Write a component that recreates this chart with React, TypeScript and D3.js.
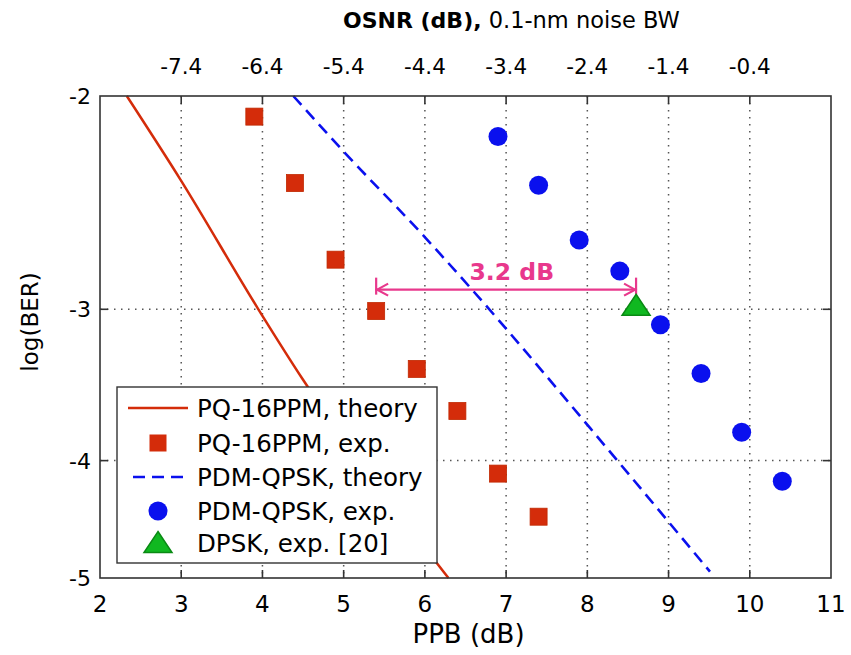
import React from 'react'
import * as d3 from 'd3'

// PQ-16PPM theory curve (PPB dB, log BER)
const ppmTheoryX = [2.33, 3.0, 3.95, 4.5, 6.29]
const ppmTheoryY = [-2.0, -2.35, -3.0, -3.43, -5.0]

// PQ-16PPM measured
const ppmExpX = [3.9, 4.4, 4.9, 5.4, 5.9, 6.4, 6.9, 7.4]
const ppmExpY = [-2.08, -2.36, -2.73, -3.01, -3.36, -3.64, -4.1, -4.45]

// PDM-QPSK theory curve
const qpskTheoryX = [4.38, 5.02, 6.01, 6.58, 8.37, 9.51]
const qpskTheoryY = [-2.0, -2.23, -2.62, -2.89, -4.0, -4.94]

// PDM-QPSK measured
const qpskExpX = [6.9, 7.4, 7.9, 8.4, 8.9, 9.4, 9.9, 10.4]
const qpskExpY = [-2.16, -2.37, -2.63, -2.79, -3.09, -3.39, -3.79, -4.16]

// DPSK point from [20]
const dpskX = [8.6]
const dpskY = [-2.98]

const xTicks = [2, 3, 4, 5, 6, 7, 8, 9, 10, 11]
const yTicks = [-2, -3, -4, -5]
const osnrTicks = [-7.4, -6.4, -5.4, -4.4, -3.4, -2.4, -1.4, -0.4]
const osnrOffset = 10.4

const legendLabels = [
  'PQ-16PPM, theory',
  'PQ-16PPM, exp.',
  'PDM-QPSK, theory',
  'PDM-QPSK, exp.',
  'DPSK, exp. [20]',
]

const W = 851
const H = 655
const margin = { top: 96, right: 20, bottom: 77, left: 100 }
const font = 'DejaVu Sans, Verdana, sans-serif'
const RED = '#d42c0a'
const BLUE = '#0a10ee'
const GREEN = '#10b820'
const PINK = '#e8388c'
const AXIS = '#333'
const TXT = '#000'

export default function App() {
  const x = d3.scaleLinear().domain([2, 11]).range([margin.left, W - margin.right])
  const osnr = d3.scaleLinear()
    .domain([2 - osnrOffset, 11 - osnrOffset])
    .range([margin.left, W - margin.right])
  // y axis is log of -log(BER)
  const yLog = d3.scaleLog().domain([2, 5]).range([margin.top, H - margin.bottom])
  const y = (v: number) => yLog(-v)

  const line = d3.line<[number, number]>()
    .x(d => x(d[0]))
    .y(d => y(d[1]))
    .curve(d3.curveMonotoneX)

  const ppmTheory = ppmTheoryX.map((v, i) => [v, ppmTheoryY[i]] as [number, number])
  const qpskTheory = qpskTheoryX.map((v, i) => [v, qpskTheoryY[i]] as [number, number])

  const x0 = margin.left
  const x1 = W - margin.right
  const y0 = margin.top
  const y1 = H - margin.bottom
  const tickLen = 8

  const sq = 17
  const circR = 9.5
  const tri = (cx: number, cy: number, w: number, h: number) =>
    `M${cx},${cy - h / 2}L${cx + w / 2},${cy + h / 2}L${cx - w / 2},${cy + h / 2}Z`

  // annotation
  const arrY = y(-2.89)
  const ax1 = x(5.4)
  const ax2 = x(8.6)

  // legend
  const lg = { x: 117, y: 387, w: 320, h: 176 }
  const rowY = [408, 443, 477, 511, 543]

  return (
    <svg width={W} height={H} style={{ position: 'absolute', left: 0, top: 0, background: '#fff' }}
      fontFamily={font}>
      {/* grid */}
      <g stroke="#555" strokeWidth={1.5} strokeDasharray="1.5,5.5">
        {xTicks.slice(1, -1).map(t => (
          <line key={'gx' + t} x1={x(t)} x2={x(t)} y1={y0} y2={y1} />
        ))}
        {yTicks.slice(1, -1).map(t => (
          <line key={'gy' + t} x1={x0} x2={x1} y1={y(t)} y2={y(t)} />
        ))}
      </g>

      {/* theory curves */}
      <path d={line(ppmTheory) || ''} fill="none" stroke={RED} strokeWidth={2.5} />
      <path d={line(qpskTheory) || ''} fill="none" stroke={BLUE} strokeWidth={2.6}
        strokeDasharray="12,7" />

      {/* measured */}
      {ppmExpX.map((v, i) => (
        <rect key={'s' + i} x={x(v) - sq / 2} y={y(ppmExpY[i]) - sq / 2} width={sq} height={sq}
          fill={RED} stroke="#c02800" strokeWidth={0.8} />
      ))}
      {qpskExpX.map((v, i) => (
        <circle key={'c' + i} cx={x(v)} cy={y(qpskExpY[i])} r={circR} fill={BLUE} />
      ))}

      {/* 3.2 dB annotation */}
      <g stroke={PINK} strokeWidth={2.2} fill="none">
        <line x1={ax1} x2={ax2} y1={arrY} y2={arrY} />
        <line x1={ax1} x2={ax1} y1={arrY - 12} y2={arrY + 5} />
        <line x1={ax2} x2={ax2} y1={arrY - 12} y2={arrY + 5} />
        <path d={`M${ax1 + 12},${arrY - 6}L${ax1 + 1},${arrY}L${ax1 + 12},${arrY + 6}`} />
        <path d={`M${ax2 - 12},${arrY - 6}L${ax2 - 1},${arrY}L${ax2 - 12},${arrY + 6}`} />
      </g>
      <text x={x(7.07)} y={arrY - 10} textAnchor="middle" fontSize={23.5} fontWeight="bold"
        fill={PINK}>3.2 dB</text>

      {dpskX.map((v, i) => (
        <path key={'t' + i} d={tri(x(v), y(dpskY[i]) - 1, 28, 21)} fill={GREEN}
          stroke="#0a8a14" strokeWidth={1.5} />
      ))}

      {/* axes box */}
      <rect x={x0} y={y0} width={x1 - x0} height={y1 - y0} fill="none" stroke={AXIS}
        strokeWidth={1.6} />
      <g stroke={AXIS} strokeWidth={1.6}>
        {xTicks.slice(1, -1).map(t => (
          <line key={'bt' + t} x1={x(t)} x2={x(t)} y1={y1} y2={y1 - tickLen} />
        ))}
        {osnrTicks.map(t => (
          <line key={'tt' + t} x1={osnr(t)} x2={osnr(t)} y1={y0} y2={y0 + tickLen} />
        ))}
        {yTicks.slice(1, -1).map(t => (
          <g key={'yt' + t}>
            <line x1={x0} x2={x0 + tickLen} y1={y(t)} y2={y(t)} />
            <line x1={x1} x2={x1 - tickLen} y1={y(t)} y2={y(t)} />
          </g>
        ))}
      </g>

      {/* tick labels */}
      <g fill={TXT}>
        {xTicks.map(t => (
          <text key={'xl' + t} x={x(t)} y={y1 + 34} textAnchor="middle" fontSize={23}>{t}</text>
        ))}
        {yTicks.map(t => (
          <text key={'yl' + t} x={x0 - 9} y={y(t) + 8} textAnchor="end" fontSize={22}>{t}</text>
        ))}
        {osnrTicks.map(t => (
          <text key={'ol' + t} x={osnr(t)} y={y0 - 22} textAnchor="middle" fontSize={21.5}>
            {t.toFixed(1)}
          </text>
        ))}
      </g>

      {/* axis titles */}
      <text x={(x0 + x1) / 2 + 3} y={H - 12} textAnchor="middle" fontSize={26} fill={TXT}>
        PPB (dB)
      </text>
      <text transform={`translate(38,${(y0 + y1) / 2 - 15}) rotate(-90)`} textAnchor="middle"
        fontSize={23} fill={TXT}>log(BER)</text>
      <text x={343} y={28} fontSize={22} fill={TXT}>
        <tspan fontWeight="bold">OSNR (dB),</tspan>
        <tspan fontSize={22.5}> 0.1-nm noise BW</tspan>
      </text>

      {/* legend */}
      <rect x={lg.x} y={lg.y} width={lg.w} height={lg.h} fill="#fff" stroke={AXIS} strokeWidth={1.4} />
      <line x1={128} x2={188} y1={rowY[0]} y2={rowY[0]} stroke={RED} strokeWidth={2.5} />
      <rect x={158 - sq / 2} y={rowY[1] - sq / 2} width={sq} height={sq} fill={RED} />
      <line x1={133} x2={188} y1={rowY[2]} y2={rowY[2]} stroke={BLUE} strokeWidth={2.6}
        strokeDasharray="12,7" />
      <circle cx={158} cy={rowY[3]} r={circR} fill={BLUE} />
      <path d={tri(158, rowY[4] - 1, 28, 21)} fill={GREEN} stroke="#0a8a14" strokeWidth={1.5} />
      <g fontSize={24.5} fill={TXT}>
        {legendLabels.map((l, i) => (
          <text key={l} x={197} y={rowY[i] + 9}>{l}</text>
        ))}
      </g>
    </svg>
  )
}
